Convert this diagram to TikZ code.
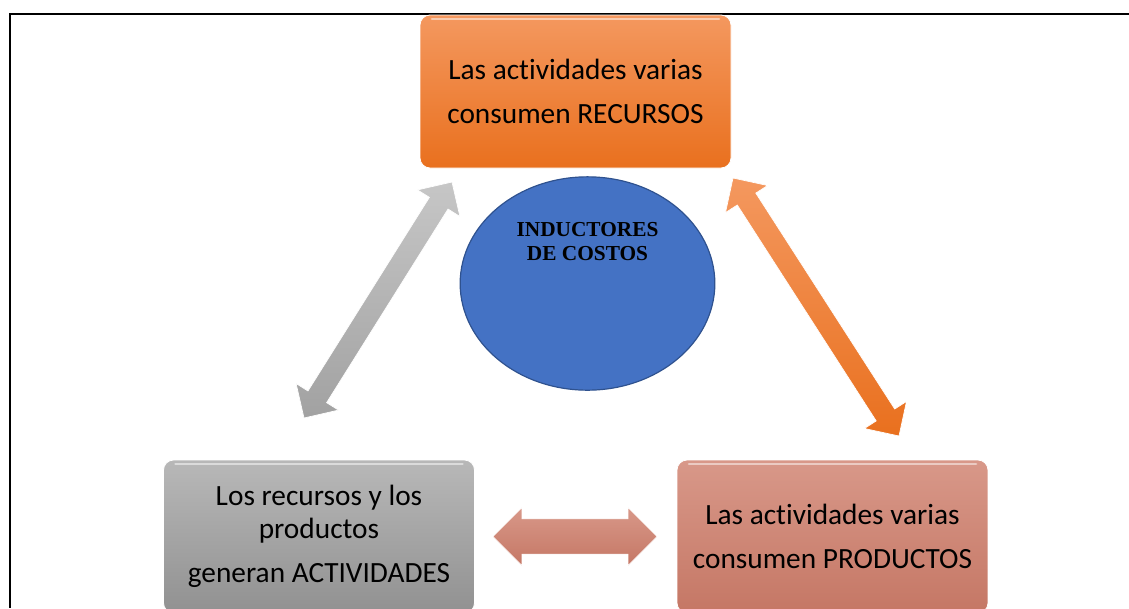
\documentclass[tikz,border=0pt]{standalone}
\usepackage{fontspec}
\setmainfont{Carlito}[Ligatures=NoCommon]
\newfontfamily\inductorfont{Liberation Serif}
\usetikzlibrary{shapes.geometric,shapes.arrows,calc}

\definecolor{recursoTop}{RGB}{244,152,95}
\definecolor{recursoBot}{RGB}{233,112,30}
\definecolor{actividadTop}{RGB}{184,184,184}
\definecolor{actividadBot}{RGB}{145,145,145}
\definecolor{productoTop}{RGB}{216,152,137}
\definecolor{productoBot}{RGB}{197,119,101}
\definecolor{inductorFill}{RGB}{68,114,196}
\definecolor{inductorLine}{RGB}{47,82,143}

\tikzset{
  activity/.style={rounded corners=7.5pt, minimum width=233.25pt, minimum height=114.75pt,
    inner sep=0pt, align=center, font=\fontsize{22}{33}\selectfont,
    draw=white, line width=.6pt,
    path picture={\draw[white, opacity=.5, line width=2pt, line cap=round]
      ([xshift=9pt,yshift=-3pt]path picture bounding box.north west) --
      ([xshift=-9pt,yshift=-3pt]path picture bounding box.north east);}},
  linkarrow/.style={double arrow, inner sep=0pt, inner ysep=8pt,
    double arrow head extend=10.5pt, draw=white, line width=.5pt},
}

% double block arrow between two named points
\newcommand{\bidir}[3]{%
  \path let \p1=($(#3)-(#2)$), \n1={atan2(\y1,\x1)}, \n2={veclen(\x1,\y1)} in
    node[linkarrow, #1, rotate=\n1, minimum height=\n2] (#2to#3) at ($(#2)!.5!(#3)$) {};}

\begin{document}
\begin{tikzpicture}[x=0.75pt, y=-0.75pt]
\clip (0,0) rectangle (1129,608);

\draw[line width=1.5pt] (1129,14) -- (10,14) -- (10,608);

\node[activity, top color=recursoTop, bottom color=recursoBot] (recursos) at (575.5,91.5)
  {Las actividades varias\\consumen RECURSOS};
\node[activity, top color=actividadTop, bottom color=actividadBot,
  font=\fontsize{22}{24.75}\selectfont] (actividades) at (319,536.5)
  {Los recursos y los\\productos\\[8.25pt]generan ACTIVIDADES};
\node[activity, top color=productoTop, bottom color=productoBot] (productos) at (832.5,536.5)
  {Las actividades varias\\consumen PRODUCTOS};

\node[ellipse, fill=inductorFill, draw=inductorLine, line width=.9pt,
  minimum width=191pt, minimum height=160pt] (inductor) at (587.5,283.5) {};
\node[align=center, font=\inductorfont\bfseries\fontsize{16}{18}\selectfont, inner sep=0pt]
  (inductext) at ([yshift=31.5pt]inductor.center) {INDUCTORES\\DE COSTOS};

\coordinate (gtop) at (452,182);
\coordinate (gbot) at (304,418);
\coordinate (otop) at (733,178);
\coordinate (obot) at (899,436);
\coordinate (hleft) at (493,536.5);
\coordinate (hright) at (657,536.5);

\bidir{top color=actividadTop!80!white, bottom color=actividadBot!85!white}{gbot}{gtop}
\bidir{top color=recursoTop, bottom color=recursoBot}{otop}{obot}
\bidir{inner ysep=13pt, double arrow head extend=8.4pt,
  top color=productoTop, bottom color=productoBot}{hleft}{hright}
\end{tikzpicture}
\end{document}
